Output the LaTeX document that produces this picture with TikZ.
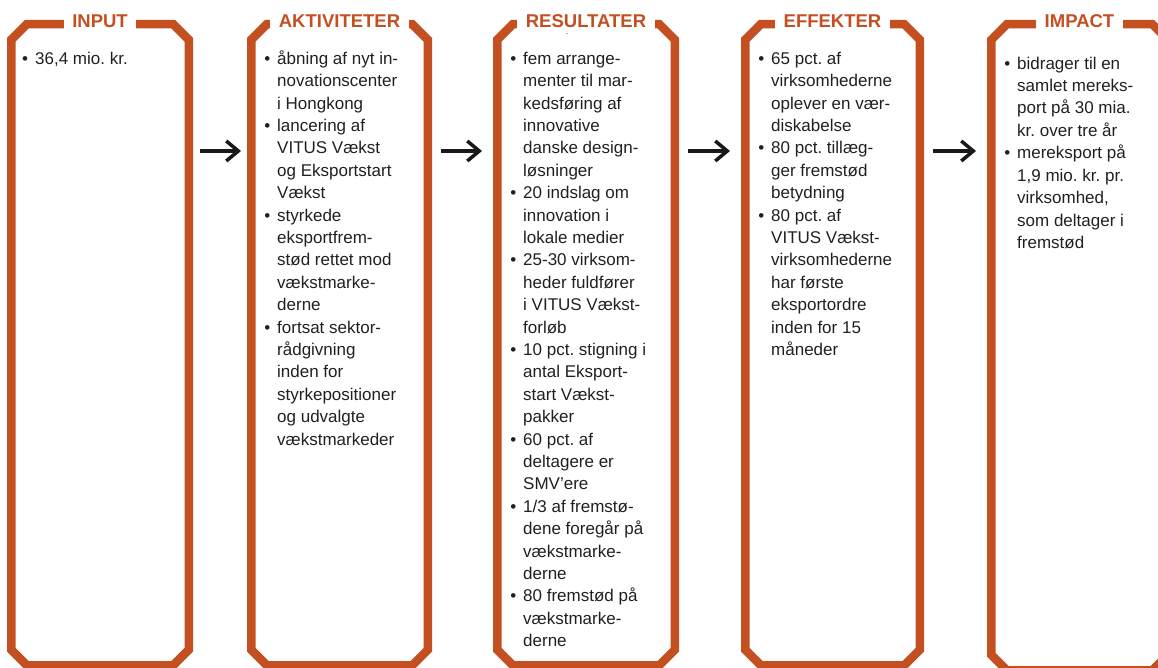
\documentclass[tikz,border=0pt]{standalone}
\usepackage{fontspec}
\setmainfont{Liberation Sans}
\usetikzlibrary{arrows.meta,calc}
\definecolor{frameorange}{RGB}{196,80,34}
\definecolor{bodytext}{RGB}{35,31,32}
\frenchspacing

% hanging bullet for list items
\newcommand\bul{\llap{\textbullet\hspace{7pt}}}
% first-line strut so every column starts on the same baseline
\newcommand\firststrut{\rule{0pt}{14pt}}

% octagonal frame drawn just inside a column node
\newcommand\chamferframe[1]{%
  \draw[frame] ($(#1.north west)+(4.25,19.75)$) -- ($(#1.north west)+(19.75,4.25)$)
    -- ($(#1.north east)+(-19.75,4.25)$) -- ($(#1.north east)+(-4.25,19.75)$)
    -- ($(#1.south east)+(-4.25,-19.75)$) -- ($(#1.south east)+(-19.75,-4.25)$)
    -- ($(#1.south west)+(19.75,-4.25)$) -- ($(#1.south west)+(4.25,-19.75)$) -- cycle;}

\tikzset{
  column/.style={minimum width=#1, minimum height=649.5pt, inner sep=0pt, outer sep=0pt, anchor=north west},
  frame/.style={draw=frameorange, line width=8.5pt, miter limit=10},
  title/.style={fill=white, text=frameorange, font=\fontsize{18.5}{20}\selectfont\bfseries,
                inner xsep=8.5pt, inner ysep=3pt, anchor=base},
  body/.style={text=bodytext, font=\fontsize{17}{22.4}\selectfont, align=left,
               inner sep=0pt, anchor=north west},
  flow/.style={draw=black!90, line width=3.5pt, -{Straight Barb[length=12pt,width=20pt]}},
}

\begin{document}
\begin{tikzpicture}[x=1pt,y=-1pt]
\useasboundingbox (0,0) rectangle (1158,668);

% columns
\node[column=186pt] (input)  at (7,20)   {};
\node[column=185pt] (aktiv)  at (247,20) {};
\node[column=186pt] (result) at (493,20) {};
\node[column=183pt] (effekt) at (741,20) {};
\node[column=185pt, minimum height=654.5pt] (impact) at (987,20) {};

\foreach \c in {input,aktiv,result,effekt,impact} {\chamferframe{\c}}

% headings set into the top edge
\node[title] (tinput)  at ($(input.north)+(0,8)$)  {INPUT};
\node[title] (taktiv)  at ($(aktiv.north)+(0,8)$)  {AKTIVITETER};
\node[title] (tresult) at ($(result.north)+(0,8)$) {RESULTATER};
\node[title] (teffekt) at ($(effekt.north)+(0,8)$) {EFFEKTER};
\node[title] (timpact) at ($(impact.north)+(0,8)$) {IMPACT};

\node[text=bodytext, font=\fontsize{6}{6}\selectfont, inner sep=0pt] (tick) at (567,35) {-};

% column contents
\node[body] (binput) at ($(input.north west)+(28,30)$) {\firststrut\bul 36,4 mio. kr.};

\node[body] (baktiv) at ($(aktiv.north west)+(30,30)$) {\firststrut\bul åbning af nyt in-\\
novationscenter\\
i Hongkong\\
\bul lancering af\\
VITUS Vækst\\
og Eksportstart\\
Vækst\\
\bul styrkede\\
eksportfrem-\\
stød rettet mod\\
vækstmarke-\\
derne\\
\bul fortsat sektor-\\
rådgivning\\
inden for\\
styrkepositioner\\
og udvalgte\\
vækstmarkeder};

\node[body] (bresult) at ($(result.north west)+(30,30)$) {\firststrut\bul fem arrange-\\
menter til mar-\\
kedsføring af\\
innovative\\
danske design-\\
løsninger\\
\bul 20 indslag om\\
innovation i\\
lokale medier\\
\bul 25-30 virksom-\\
heder fuldfører\\
i VITUS Vækst-\\
forløb\\
\bul 10 pct. stigning i\\
antal Eksport-\\
start Vækst-\\
pakker\\
\bul 60 pct. af\\
deltagere er\\
SMV’ere\\
\bul 1/3 af fremstø-\\
dene foregår på\\
vækstmarke-\\
derne\\
\bul 80 fremstød på\\
vækstmarke-\\
derne};

\node[body] (beffekt) at ($(effekt.north west)+(30,30)$) {\firststrut\bul 65 pct. af\\
virksomhederne\\
oplever en vær-\\
diskabelse\\
\bul 80 pct. tillæg-\\
ger fremstød\\
betydning\\
\bul 80 pct. af\\
VITUS Vækst-\\
virksomhederne\\
har første\\
eksportordre\\
inden for 15\\
måneder};

\node[body] (bimpact) at ($(impact.north west)+(30,35)$) {\firststrut\bul bidrager til en\\
samlet mereks-\\
port på 30 mia.\\
kr. over tre år\\
\bul mereksport på\\
1,9 mio. kr. pr.\\
virksomhed,\\
som deltager i\\
fremstød};

% flow arrows between columns
\coordinate (row) at (0,151);
\draw[flow, shorten <=7pt, shorten >=6pt] (input.east |- row)  -- (aktiv.west |- row);
\draw[flow, shorten <=9pt, shorten >=11pt] (aktiv.east |- row)  -- (result.west |- row);
\draw[flow, shorten <=9pt, shorten >=11pt] (result.east |- row) -- (effekt.west |- row);
\draw[flow, shorten <=9pt, shorten >=11pt] (effekt.east |- row) -- (impact.west |- row);
\end{tikzpicture}
\end{document}
